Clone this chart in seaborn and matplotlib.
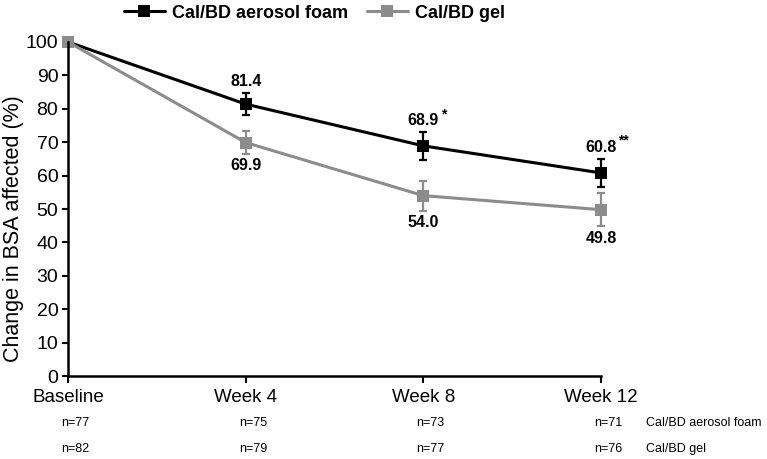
import pandas as pd
import matplotlib.pyplot as plt
import matplotlib.transforms as mtransforms
import seaborn as sns

# Data
timepoints = ['Baseline', 'Week 4', 'Week 8', 'Week 12']
foam_values = [100, 81.4, 68.9, 60.8]
foam_err = [0, 3.3, 4.1, 4.2]
gel_values = [100, 69.9, 54.0, 49.8]
gel_err = [0, 3.5, 4.5, 5.0]
foam_labels = ['', '81.4', '68.9', '60.8']
foam_stars = ['', '', '*', '**']
gel_labels = ['', '69.9', '54.0', '49.8']
foam_n = ['n=77', 'n=75', 'n=73', 'n=71']
gel_n = ['n=82', 'n=79', 'n=77', 'n=76']
series_names = ['Cal/BD aerosol foam', 'Cal/BD gel']
colors = ['#000000', '#8c8c8c']

sns.set_style('white')
plt.rcParams['font.family'] = ['Liberation Sans', 'DejaVu Sans']
plt.rcParams['text.color'] = 'black'
plt.rcParams['axes.labelcolor'] = 'black'
plt.rcParams['xtick.color'] = 'black'
plt.rcParams['ytick.color'] = 'black'

pos = list(range(len(timepoints)))
df_foam = pd.DataFrame({'pos': pos, 'value': foam_values})
df_gel = pd.DataFrame({'pos': pos, 'value': gel_values})

fig = plt.figure(figsize=(7.67, 4.59), dpi=100)
ax = fig.add_axes([0.0887, 0.1808, 0.6949, 0.7277])

for df, err, name, col in [(df_foam, foam_err, series_names[0], colors[0]),
                           (df_gel, gel_err, series_names[1], colors[1])]:
    ax.errorbar(df['pos'], df['value'], yerr=err, fmt='none', ecolor=col,
                elinewidth=1.6, capsize=3, capthick=1.6, clip_on=False)
    sns.lineplot(data=df, x='pos', y='value', ax=ax, color=col, marker='s',
                 markersize=8, markeredgewidth=0, linewidth=2.2, label=name,
                 clip_on=False)

# value labels
for i in pos:
    if foam_labels[i]:
        top = foam_values[i] + foam_err[i]
        ax.annotate(foam_labels[i], (i, top), xytext=(0, 3), textcoords='offset points',
                    ha='center', va='bottom', fontsize=11.5, fontweight='bold')
        if foam_stars[i]:
            ax.annotate(foam_stars[i], (i, top), xytext=(12.5, 8), textcoords='offset points',
                        ha='left', va='bottom', fontsize=10, fontweight='bold')
    if gel_labels[i]:
        bot = gel_values[i] - gel_err[i]
        ax.annotate(gel_labels[i], (i, bot), xytext=(0, -3), textcoords='offset points',
                    ha='center', va='top', fontsize=11.5, fontweight='bold')

ax.set_xlim(0, 3)
ax.set_ylim(0, 100)
ax.set_xticks(pos)
ax.set_xticklabels(timepoints, fontsize=13.5)
ax.set_yticks(range(0, 101, 10))
ax.tick_params(axis='y', labelsize=14, direction='out', length=4, width=1.5, left=True, pad=3)
ax.tick_params(axis='x', direction='out', length=5, width=1.5, bottom=True, pad=4)
ax.set_xlabel('')
ax.set_ylabel('Change in BSA affected (%)', fontsize=15.5)
ax.yaxis.set_label_coords(-0.082, 0.44)
sns.despine(ax=ax)
for s in ['left', 'bottom']:
    ax.spines[s].set_linewidth(1.8)
    ax.spines[s].set_color('black')

# patient counts under the axis
trans = mtransforms.blended_transform_factory(ax.transData, fig.transFigure)
for i in pos:
    ax.text(i + 0.04, 1 - 423 / 459, foam_n[i], transform=trans, ha='center', va='center',
            fontsize=9)
    ax.text(i + 0.04, 1 - 449 / 459, gel_n[i], transform=trans, ha='center', va='center',
            fontsize=9)
ax.text(3.255, 1 - 423 / 459, series_names[0], transform=trans, ha='left', va='center', fontsize=9)
ax.text(3.255, 1 - 449 / 459, series_names[1], transform=trans, ha='left', va='center', fontsize=9)

handles, labels = ax.get_legend_handles_labels()
ax.get_legend().remove()
leg = fig.legend(handles, labels, loc='upper center', bbox_to_anchor=(0.41, 1.025), ncol=2,
                 frameon=False, prop={'weight': 'bold', 'size': 13}, handlelength=2.3,
                 columnspacing=1.0, handletextpad=0.4)

fig.savefig('out.png', dpi=100)
